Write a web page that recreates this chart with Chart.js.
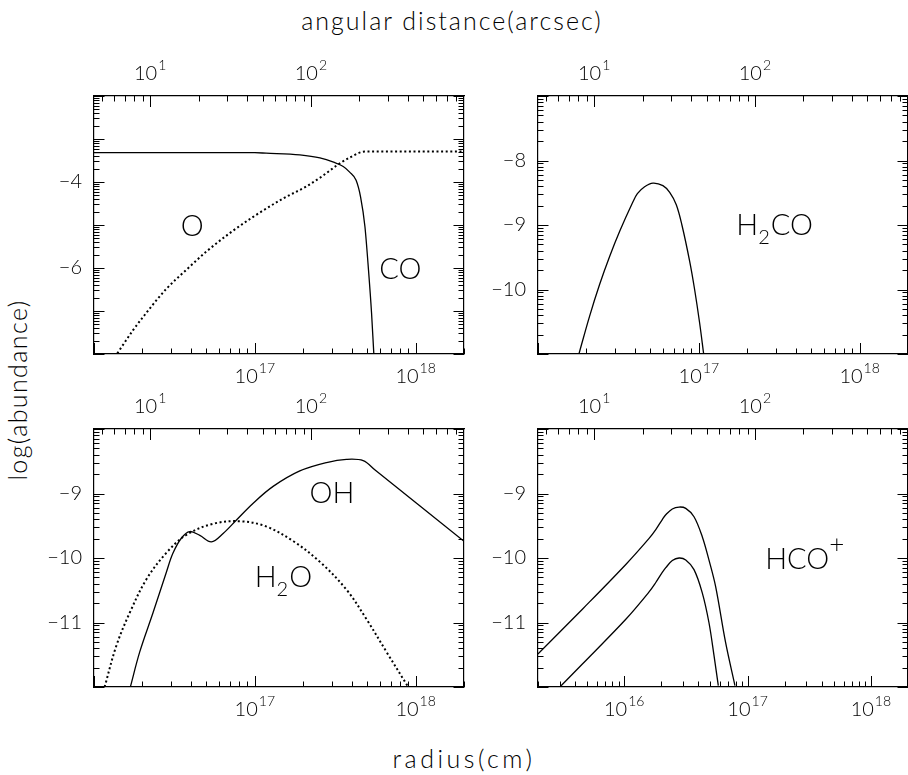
<!DOCTYPE html>
<html>
<head>
<meta charset="utf-8">
<script src="https://cdn.jsdelivr.net/npm/chart.js@4.4.1/dist/chart.umd.min.js"></script>
<style>
  body { margin: 0; background: #fff; width: 908px; height: 775px; overflow: hidden; position: relative;
         font-family: Lato, "DejaVu Sans", sans-serif; font-weight: 300; color: #000; }
  canvas { position: absolute; }
  .title { position: absolute; font-size: 25px; line-height: 25px; letter-spacing: 2px; white-space: nowrap; }
</style>
</head>
<body>
<div class="title" id="topTitle" style="left:452px; top:8px; transform:translateX(-50%);">angular distance(arcsec)</div>
<div class="title" id="leftTitle" style="left:17px; top:390px; letter-spacing:1.4px; transform:translate(-50%,-50%) rotate(-90deg);">log(abundance)</div>
<div class="title" id="bottomTitle" style="left:464px; top:746px; letter-spacing:3.5px; transform:translateX(-50%);">radius(cm)</div>
<canvas id="panelCO" width="450" height="343"></canvas>
<canvas id="panelH2CO" width="450" height="343"></canvas>
<canvas id="panelOH" width="450" height="343"></canvas>
<canvas id="panelHCO" width="450" height="343"></canvas>
<script>
// radius as log10(cm), abundance as log10
const oLogR   = [16.145, 16.243, 16.326, 16.45, 16.575, 16.7, 16.844, 16.99, 17.176, 17.322, 17.425, 17.508, 17.591, 17.685, 17.75, 18.0, 18.301];
const oAbund  = [-7.985, -7.446, -7.04, -6.485, -6.04, -5.615, -5.19, -4.81, -4.385, -4.1, -3.85, -3.62, -3.43, -3.292, -3.292, -3.292, -3.292];
const coLogR  = [16.0, 16.5, 17.0, 17.07, 17.28, 17.405, 17.49, 17.55, 17.59, 17.63, 17.658, 17.685, 17.707, 17.726, 17.74, 17.75];
const coAbund = [-3.315, -3.315, -3.318, -3.33, -3.37, -3.44, -3.54, -3.64, -3.77, -3.96, -4.35, -5.04, -6.04, -7.04, -7.98, -8.6];

const h2coLogR  = [16.255, 16.321, 16.383, 16.446, 16.508, 16.587, 16.618, 16.663, 16.715, 16.777, 16.819, 16.86, 16.895, 16.943, 16.974, 17.005, 17.03];
const h2coAbund = [-10.995, -10.412, -9.923, -9.485, -9.098, -8.66, -8.515, -8.407, -8.35, -8.39, -8.495, -8.686, -9.0, -9.56, -10.0, -10.515, -10.995];

const ohLogR  = [16.226, 16.284, 16.367, 16.45, 16.49, 16.544, 16.595, 16.658, 16.73, 16.803, 16.886, 16.99, 17.114, 17.28, 17.446, 17.57, 17.674, 17.75, 18.301];
const ohAbund = [-12.0, -11.46, -10.85, -10.22, -9.93, -9.69, -9.59, -9.65, -9.75, -9.62, -9.41, -9.15, -8.89, -8.65, -8.52, -8.47, -8.49, -8.64, -9.74];
const h2oLogR  = [16.066, 16.139, 16.222, 16.326, 16.45, 16.575, 16.74, 16.907, 17.07, 17.24, 17.405, 17.57, 17.695, 17.82, 17.954];
const h2oAbund = [-12.0, -11.36, -10.85, -10.33, -9.92, -9.64, -9.47, -9.43, -9.51, -9.74, -10.06, -10.49, -10.95, -11.46, -12.0];

const hcoUpLogR  = [15.3, 15.663, 16.013, 16.2, 16.256, 16.31, 16.337, 16.39, 16.445, 16.499, 16.566, 16.633, 16.687, 16.741, 16.822, 16.898];
const hcoUpAbund = [-11.49, -10.79, -10.10, -9.70, -9.56, -9.40, -9.33, -9.24, -9.21, -9.23, -9.36, -9.67, -10.03, -10.44, -11.31, -11.98];
const hcoLoLogR  = [15.488, 15.663, 16.013, 16.2, 16.256, 16.31, 16.337, 16.39, 16.445, 16.499, 16.566, 16.633, 16.687, 16.728, 16.763];
const hcoLoAbund = [-11.98, -11.64, -10.95, -10.53, -10.38, -10.22, -10.15, -10.04, -10.0, -10.03, -10.18, -10.54, -11.0, -11.51, -11.98];

// tick labels
const radiusLabelsWide = [17, 18];        // exponents shown on the 1e16..2e18 panels
const radiusLabelsHCO  = [16, 17, 18];    // exponents shown on the HCO+ panel
const arcsecLabels     = [1, 2];
const yLabelsCO   = [-6, -4];
const yLabelsH2CO = [-10, -9, -8];
const yLabelsLow  = [-11, -10, -9];

const FONT = 'Lato, "DejaVu Sans", sans-serif';
const ARCSEC_MIN = 4.48, ARCSEC_MAX = 895;

function logTicks(min, max) {
  const out = [];
  for (let d = Math.floor(Math.log10(min)); d <= Math.ceil(Math.log10(max)); d++) {
    for (let k = 1; k <= 9; k++) {
      const v = k * Math.pow(10, d);
      if (v >= min * 0.999 && v <= max * 1.001) out.push({ v, major: k === 1 });
    }
  }
  return out;
}

function yTicks(min, max) {
  const out = [];
  for (let n = Math.floor(min); n <= max; n++) {
    if (n >= min) out.push({ v: n, major: true });
    for (let k = 2; k <= 9; k++) {
      const v = n + Math.log10(k);
      if (v > min && v < max) out.push({ v, major: false });
    }
  }
  return out;
}

function drawPowerLabel(ctx, x, baseY, expY, exp) {
  ctx.font = '300 20px ' + FONT;
  const w1 = ctx.measureText('10').width;
  ctx.font = '300 14px ' + FONT;
  const w2 = ctx.measureText(String(exp)).width;
  const x0 = x - (w1 + 1 + w2) / 2;
  ctx.textAlign = 'left';
  ctx.textBaseline = 'alphabetic';
  ctx.font = '300 20px ' + FONT;
  ctx.fillText('10', x0, baseY);
  ctx.font = '300 14px ' + FONT;
  ctx.fillText(String(exp), x0 + w1 + 1, expY);
}

const frameTicks = {
  id: 'frameTicks',
  afterDraw(chart, args, opts) {
    const { ctx, chartArea: a, scales } = chart;
    ctx.save();
    ctx.strokeStyle = '#000';
    ctx.lineWidth = 1;
    ctx.beginPath();
    for (const t of logTicks(scales.x.min, scales.x.max)) {
      const px = Math.round(scales.x.getPixelForValue(t.v)) + 0.5;
      const len = t.major ? 11 : 5.5;
      ctx.moveTo(px, a.bottom); ctx.lineTo(px, a.bottom - len);
    }
    for (const t of logTicks(scales.x2.min, scales.x2.max)) {
      const px = Math.round(scales.x2.getPixelForValue(t.v)) + 0.5;
      const len = t.major ? 11 : 5.5;
      ctx.moveTo(px, a.top); ctx.lineTo(px, a.top + len);
    }
    for (const t of yTicks(scales.y.min, scales.y.max)) {
      const py = Math.round(scales.y.getPixelForValue(t.v)) + 0.5;
      const len = t.major ? 10.5 : 5.5;
      ctx.moveTo(a.left, py); ctx.lineTo(a.left + len, py);
      ctx.moveTo(a.right, py); ctx.lineTo(a.right - len, py);
    }
    ctx.stroke();

    ctx.fillStyle = '#000';
    for (const e of opts.bottomLabels) {
      drawPowerLabel(ctx, scales.x.getPixelForValue(Math.pow(10, e)), a.bottom + 29, a.bottom + 18.5, e);
    }
    for (const e of arcsecLabels) {
      drawPowerLabel(ctx, scales.x2.getPixelForValue(Math.pow(10, e)), a.top - 16, a.top - 26.5, e);
    }

    // species names, anchored left/baseline in data coordinates
    for (const n of opts.notes) {
      let x = scales.x.getPixelForValue(Math.pow(10, n.logR));
      const y = scales.y.getPixelForValue(n.y);
      for (const [txt, kind] of n.parts) {
        let size = 29, dy = 0;
        if (kind === 'sub') { size = 20; dy = 9; }
        if (kind === 'sup') { size = 26; dy = -16; }
        ctx.font = '300 ' + size + 'px ' + FONT;
        ctx.textAlign = 'left';
        ctx.textBaseline = 'alphabetic';
        ctx.fillText(txt, x, y + dy);
        x += ctx.measureText(txt).width + (kind === 'n' ? 0 : 1);
      }
    }
    ctx.restore();
  }
};

function series(logR, abund, dotted, mono) {
  return {
    data: logR.map((r, i) => ({ x: Math.pow(10, r), y: abund[i] })),
    borderColor: '#000',
    borderWidth: dotted ? 2 : 1.3,
    borderDash: dotted ? [2, 2.6] : [],
    cubicInterpolationMode: mono ? 'monotone' : 'default',
    tension: 0.35,
    pointRadius: 0,
    fill: false
  };
}

function makePanel(id, left, top, xMin, yMin, yMax, yLabels, bottomLabels, datasets, notes) {
  const cv = document.getElementById(id);
  cv.style.left = (left - 70) + 'px';
  cv.style.top = (top - 45) + 'px';
  const border = { display: true, color: '#000', width: 1.2 };
  const hidden = { display: false, drawTicks: false };
  return new Chart(cv.getContext('2d'), {
    type: 'line',
    data: { datasets },
    options: {
      responsive: false,
      animation: false,
      events: [],
      layout: { padding: 0 },
      plugins: { legend: { display: false }, tooltip: { enabled: false }, frameTicks: { bottomLabels, notes } },
      scales: {
        x: { type: 'logarithmic', position: 'bottom', min: xMin, max: 2e18,
             grid: hidden, border, ticks: { display: false },
             afterFit: s => { s.height = 40; } },
        x2: { type: 'logarithmic', position: 'top', min: ARCSEC_MIN, max: ARCSEC_MAX,
              grid: hidden, border, ticks: { display: false },
              afterFit: s => { s.height = 45; } },
        y: { type: 'linear', position: 'left', min: yMin, max: yMax,
             grid: hidden, border,
             afterBuildTicks: s => { s.ticks = yLabels.map(v => ({ value: v })); },
             ticks: { padding: 12, color: '#000', font: { family: FONT, size: 20, weight: '300' },
                      callback: v => String(v).replace('-', '\u2212') },
             afterFit: s => { s.width = 70; } },
        y2: { type: 'linear', position: 'right', min: yMin, max: yMax,
              grid: hidden, border, ticks: { display: false },
              afterFit: s => { s.width = 10; } }
      }
    },
    plugins: [frameTicks]
  });
}

makePanel('panelCO', 94, 96, 1e16, -8, -2, yLabelsCO, radiusLabelsWide,
  [series(coLogR, coAbund, false, true), series(oLogR, oAbund, true, true)],
  [{ logR: 16.54, y: -5.247, parts: [['O', 'n']] },
   { logR: 17.774, y: -6.247, parts: [['CO', 'n']] }]);

makePanel('panelH2CO', 538, 96, 1e16, -11, -7, yLabelsH2CO, radiusLabelsWide,
  [series(h2coLogR, h2coAbund, false, false)],
  [{ logR: 17.233, y: -9.155, parts: [['H', 'n'], ['2', 'sub'], ['CO', 'n']] }]);

makePanel('panelOH', 94, 429, 1e16, -12, -8, yLabelsLow, radiusLabelsWide,
  [series(ohLogR, ohAbund, false, false), series(h2oLogR, h2oAbund, true, false)],
  [{ logR: 17.34, y: -9.152, parts: [['OH', 'n']] },
   { logR: 16.999, y: -10.445, parts: [['H', 'n'], ['2', 'sub'], ['O', 'n']] }]);

makePanel('panelHCO', 538, 429, 2e15, -12, -8, yLabelsLow, radiusLabelsHCO,
  [series(hcoUpLogR, hcoUpAbund, false, false), series(hcoLoLogR, hcoLoAbund, false, false)],
  [{ logR: 17.143, y: -10.17, parts: [['HCO', 'n'], ['+', 'sup']] }]);
</script>
</body>
</html>
